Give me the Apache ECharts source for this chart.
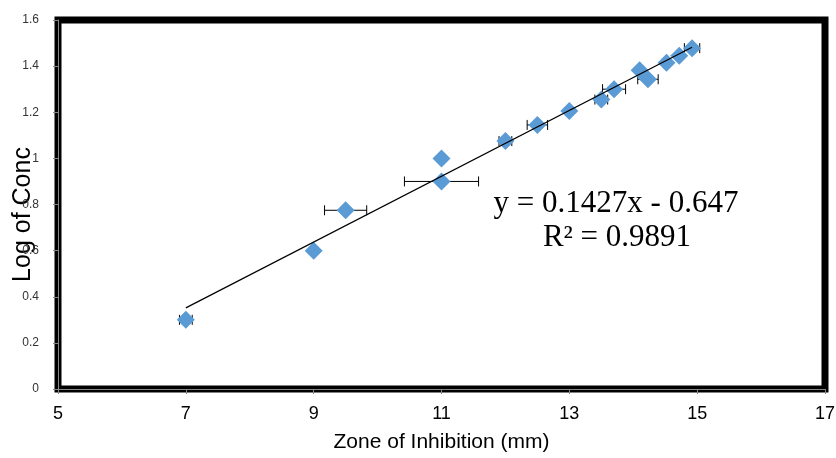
<!DOCTYPE html>
<html>
<head>
<meta charset="utf-8">
<script src="https://cdn.jsdelivr.net/npm/echarts@6/dist/echarts.min.js"></script>
<style>
  html, body { margin: 0; padding: 0; background: #fff; }
  #chart { width: 836px; height: 458px; }
</style>
</head>
<body>
<div id="chart"></div>
<script>
// zone of inhibition (mm), log of conc, horizontal error (mm)
const zoneMm = [7, 9, 9.5, 11, 11, 12, 12.5, 13, 13.5, 13.7, 14.1, 14.23, 14.52, 14.72, 14.92]
const logConc = [0.3, 0.6, 0.775, 1.0, 0.9, 1.075, 1.145, 1.205, 1.255, 1.3, 1.382, 1.343, 1.415, 1.445, 1.478]
const zoneErr = [0.1, 0, 0.33, 0, 0.58, 0.1, 0.16, 0, 0.1, 0.18, 0, 0.16, 0, 0, 0.12]

const slope = 0.1427
const intercept = -0.647
const eqText = 'y = 0.1427x - 0.647'
const r2Text = 'R² = 0.9891'

const xMin = 5, xMax = 17, xStep = 2
const yMin = 0, yMax = 1.6, yStep = 0.2

const points = zoneMm.map((x, i) => [x, logConc[i]])
const errData = zoneMm.map((x, i) => [x, logConc[i], zoneErr[i]]).filter(d => d[2] > 0)
const fitX = [Math.min(...zoneMm), Math.max(...zoneMm)]
const fitLine = fitX.map(x => [x, slope * x + intercept])

const chart = echarts.init(document.getElementById('chart'))
chart.setOption({
  animation: false,
  grid: {
    left: 58,
    right: 11,
    top: 20,
    bottom: 69,
    containLabel: false,
    outerBoundsMode: 'none',
    show: true,
    borderColor: '#000',
    borderWidth: 7
  },
  xAxis: {
    type: 'value',
    min: xMin,
    max: xMax,
    interval: xStep,
    name: 'Zone of Inhibition (mm)',
    nameLocation: 'middle',
    nameGap: 43,
    nameMoveOverlap: false,
    nameTextStyle: { fontFamily: 'Liberation Sans', fontSize: 21, color: '#000' },
    splitLine: { show: false },
    axisLine: { show: true, onZero: false, lineStyle: { color: '#868686', width: 1 } },
    axisTick: { show: true, length: 5, lineStyle: { color: '#868686' } },
    axisLabel: { fontFamily: 'Liberation Sans', fontSize: 18, color: '#000', margin: 16 }
  },
  yAxis: {
    type: 'value',
    min: yMin,
    max: yMax,
    interval: yStep,
    name: 'Log of Conc',
    nameLocation: 'middle',
    nameGap: 22,
    nameMoveOverlap: false,
    nameTextStyle: { fontFamily: 'Liberation Sans', fontSize: 25, color: '#000', padding: [0, 20, 0, 0] },
    splitLine: { show: false },
    axisLine: { show: true, onZero: false, lineStyle: { color: '#868686', width: 1 } },
    axisTick: { show: true, length: 5, lineStyle: { color: '#868686' } },
    axisLabel: { fontFamily: 'Liberation Sans', fontSize: 12, color: '#333', margin: 19 }
  },
  series: [{
    type: 'custom',
    name: 'error',
    z: 2,
    data: errData,
    renderItem: function (params, api) {
      const x = api.value(0), y = api.value(1), e = api.value(2)
      const lo = api.coord([x - e, y])
      const hi = api.coord([x + e, y])
      const cap = 5
      const st = { stroke: '#000', lineWidth: 1 }
      return {
        type: 'group',
        children: [
          { type: 'line', shape: { x1: lo[0], y1: lo[1], x2: hi[0], y2: hi[1] }, style: st },
          { type: 'line', shape: { x1: lo[0], y1: lo[1] - cap, x2: lo[0], y2: lo[1] + cap }, style: st },
          { type: 'line', shape: { x1: hi[0], y1: hi[1] - cap, x2: hi[0], y2: hi[1] + cap }, style: st }
        ]
      }
    }
  }, {
    type: 'scatter',
    name: 'data',
    z: 3,
    symbol: 'diamond',
    symbolSize: 18,
    itemStyle: { color: '#5b9bd5', opacity: 1 },
    data: points
  }, {
    type: 'line',
    name: 'fit',
    z: 4,
    symbol: 'none',
    lineStyle: { color: '#000', width: 1.2 },
    data: fitLine
  }],
  graphic: [{
    type: 'text',
    x: 616,
    y: 204,
    style: {
      text: eqText,
      align: 'center',
      verticalAlign: 'middle',
      fontFamily: 'Liberation Serif',
      fontSize: 31,
      fill: '#000'
    }
  }, {
    type: 'text',
    x: 617,
    y: 238,
    style: {
      text: r2Text,
      align: 'center',
      verticalAlign: 'middle',
      fontFamily: 'Liberation Serif',
      fontSize: 31,
      fill: '#000'
    }
  }]
})
</script>
</body>
</html>
